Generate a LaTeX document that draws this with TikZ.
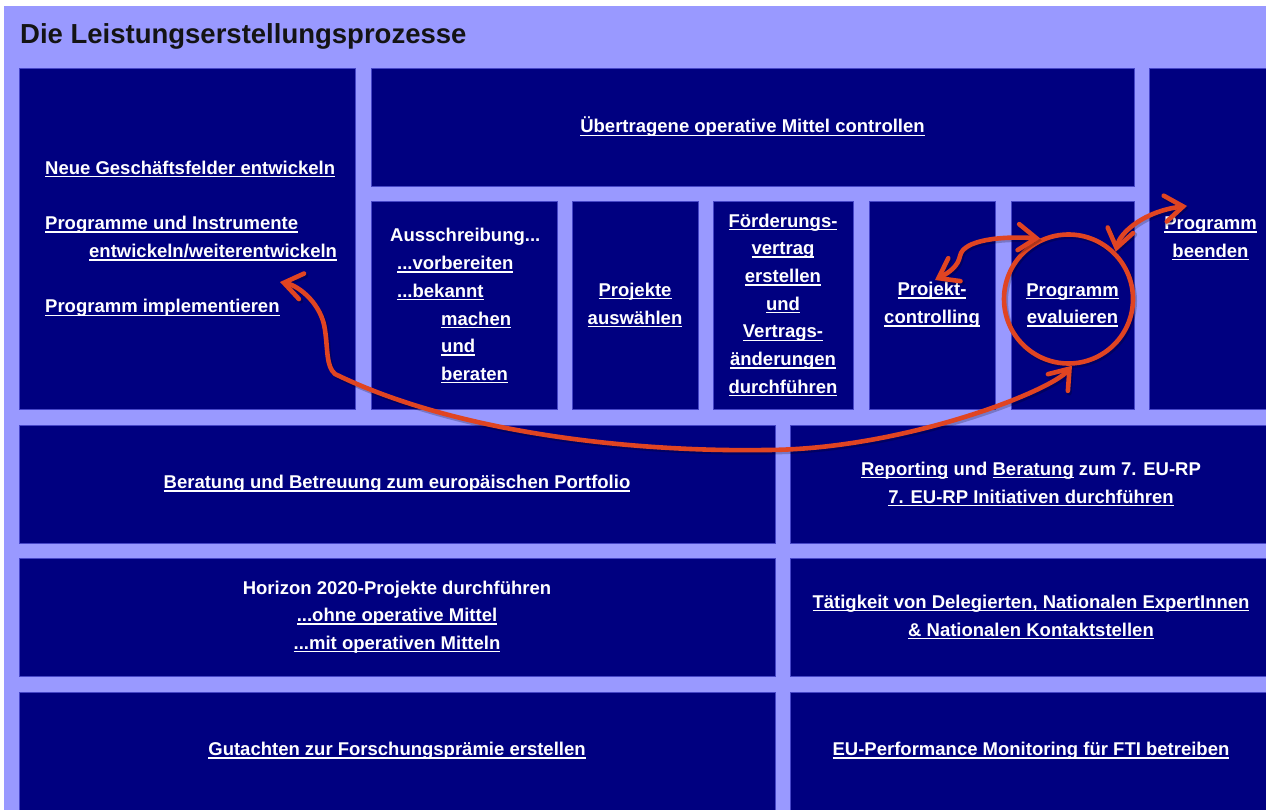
\documentclass[tikz,border=0pt]{standalone}
\usepackage{fontspec}
\setmainfont{Liberation Sans}
\usetikzlibrary{arrows.meta}
\definecolor{bgp}{RGB}{153,153,255}
\definecolor{navy}{RGB}{0,0,128}
\definecolor{edgeb}{RGB}{70,70,200}
\definecolor{markr}{RGB}{224,68,34}
\definecolor{ttl}{RGB}{20,20,20}
\newsavebox\lnkbox
\newcommand\lnk[1]{\sbox\lnkbox{#1}\rlap{\rule[-3pt]{\wd\lnkbox}{1.4pt}}\usebox\lnkbox}
\begin{document}
\begin{tikzpicture}[x=1pt,y=-1pt,
  box/.style={fill=navy,draw=edgeb,line width=0.8pt,inner sep=0pt,text=white,align=center,
    font=\bfseries\fontsize{18.5}{27.7}\selectfont},
  txt/.style={text=white,inner sep=0pt,align=left,font=\bfseries\fontsize{18.5}{27.7}\selectfont},
  arr/.style={draw=markr,line width=4.6pt,line cap=round,
    {Straight Barb[length=18pt,width=26pt,line cap=round]}-{Straight Barb[length=18pt,width=26pt,line cap=round]},
    preaction={draw=black,draw opacity=0.22,line width=5pt,transform canvas={shift={(1.5pt,-2pt)}}}},
]
\useasboundingbox (0,0) rectangle (1266,810);
\fill[white] (0,0) rectangle (1266,810);
\fill[bgp] (4,6) rectangle (1266,810);
\node[anchor=base west,inner sep=0pt,text=ttl,font=\bfseries\fontsize{27.5}{30}\selectfont] (title) at (20,44) {Die Leistungserstellungsprozesse};

% upper block
\node[box,minimum width=336,minimum height=341] (lb) at (187,238.5) {};
\node[txt,anchor=west] (lbt) at (45,239) {\lnk{Neue Geschäftsfelder entwickeln}\\[27.7pt]
  \lnk{Programme und Instrumente}\\
  \hspace*{44pt}\lnk{entwickeln/weiterentwickeln}\\[27.7pt]
  \lnk{Programm implementieren}};
\node[box,minimum width=763,minimum height=118] (top) at (752.5,127) {\lnk{Übertragene operative Mittel controllen}};
\node[box,minimum width=123,minimum height=341] (rb) at (1210.5,238.5) {\lnk{Programm}\\\lnk{beenden}};
\node[box,minimum width=186,minimum height=208] (s1) at (464,305) {};
\node[txt,anchor=west] (s1t) at (390,306) {Ausschreibung...\\
  \hspace*{7pt}\lnk{...vorbereiten}\\
  \hspace*{7pt}\lnk{...bekannt}\\
  \hspace*{51pt}\lnk{machen}\\
  \hspace*{51pt}\lnk{und}\\
  \hspace*{51pt}\lnk{beraten}};
\node[box,minimum width=126,minimum height=208] (s2) at (635,305) {\lnk{Projekte}\\\lnk{auswählen}};
\node[box,minimum width=140,minimum height=208] (s3) at (783,305) {\lnk{Förderungs-}\\\lnk{vertrag}\\\lnk{erstellen}\\\lnk{und}\\\lnk{Vertrags-}\\\lnk{änderungen}\\\lnk{durchführen}};
\node[box,minimum width=126,minimum height=208] (s4) at (932,305) {\lnk{Projekt-}\\\lnk{controlling}};
\node[box,minimum width=123,minimum height=208] (s5) at (1072.5,305) {\lnk{Programm}\\\lnk{evaluieren}};

% lower rows
\node[box,minimum width=756,minimum height=118] (r2l) at (397,484) {\lnk{Beratung und Betreuung zum europäischen Portfolio}};
\node[box,minimum width=482,minimum height=118] (r2r) at (1031,484) {\lnk{Reporting} und \lnk{Beratung} zum 7. EU-RP\\\lnk{7. EU-RP Initiativen durchführen}};
\node[box,minimum width=756,minimum height=118] (r3l) at (397,617) {Horizon 2020-Projekte durchführen\\\lnk{...ohne operative Mittel}\\\lnk{...mit operativen Mitteln}};
\node[box,minimum width=482,minimum height=118] (r3r) at (1031,617) {\lnk{Tätigkeit von Delegierten, Nationalen ExpertInnen}\\\lnk{\& Nationalen Kontaktstellen}};
\node[box,minimum width=756,minimum height=118] (r4l) at (397,751) {\lnk{Gutachten zur Forschungsprämie erstellen}};
\node[box,minimum width=482,minimum height=118] (r4r) at (1031,751) {\lnk{EU-Performance Monitoring für FTI betreiben}};

% red marks
\draw[black,draw opacity=0.22,line width=5pt,transform canvas={shift={(1.5pt,-2pt)}}] (1068.5,299) circle[radius=64.5];
\node[draw=markr,line width=4.6pt,circle,minimum size=129,inner sep=0pt] (ring) at (1068.5,299) {};
\coordinate (tipL) at (280,282);
\coordinate (tipA) at (935,280);
\coordinate (tipD) at (1187,206);
\draw[arr] (ring.-87) .. controls (1050,392) and (900,450) .. (765,450)
  .. controls (640,452) and (460,435) .. (335,374)
  .. controls (326,366) and (328,350) .. (325,330)
  .. controls (322,305) and (300,286) .. (tipL);
\draw[arr] (tipA) .. controls (950,272) and (958,266) .. (960,256)
  .. controls (963,240) and (1000,236) .. (ring.115);
\draw[arr] (ring.45) .. controls (1120,232) and (1145,211) .. (tipD);
\end{tikzpicture}
\end{document}
